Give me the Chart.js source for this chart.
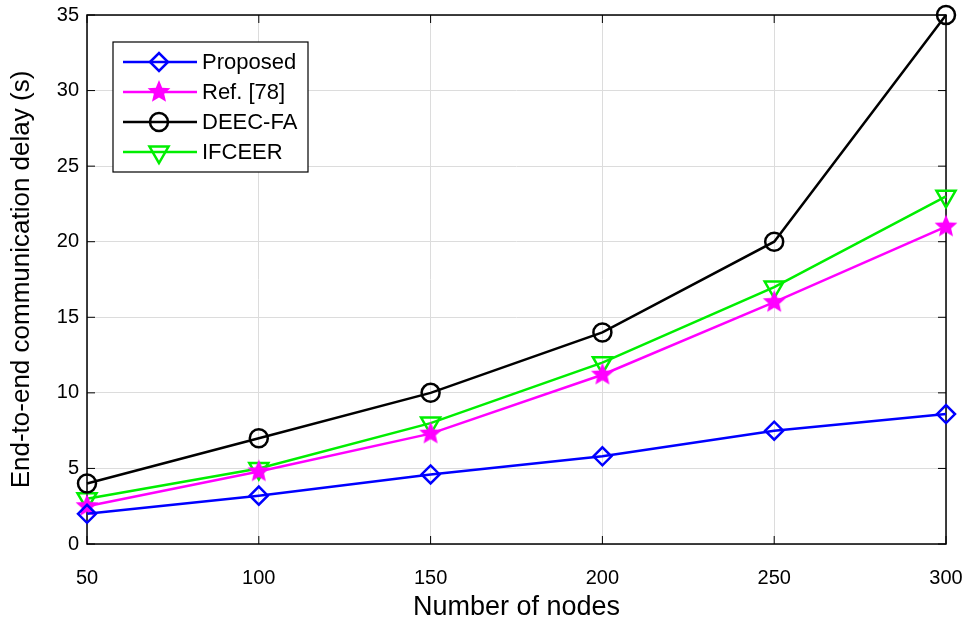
<!DOCTYPE html>
<html lang="en">
<head>
  <meta charset="UTF-8">
  <title>End-to-end delay</title>
  <script src="https://cdn.jsdelivr.net/npm/chart.js"></script>
  <style>
    body { margin: 0; padding: 0; background: #fff; }
    #wrap { width: 974px; height: 625px; }
  </style>
</head>
<body>
  <div id="wrap"><canvas id="delay-chart" width="974" height="625"></canvas></div>
  <script>
    const nodes = [50, 100, 150, 200, 250, 300];
    const proposed = [2.0, 3.2, 4.6, 5.8, 7.5, 8.6];
    const ref78 = [2.5, 4.8, 7.3, 11.2, 16.0, 21.0];
    const deecFa = [4.0, 7.0, 10.0, 14.0, 20.0, 35.0];
    const ifceer = [3.0, 5.0, 8.0, 12.0, 17.0, 23.0];
    const yTicks = [0, 5, 10, 15, 20, 25, 30, 35];
    const xTicks = [50, 100, 150, 200, 250, 300];

    const FONT = "Arial, 'Liberation Sans', sans-serif";

    // filled 5-point star for the Ref. [78] series
    function makeStar(color, r) {
      const c = document.createElement("canvas");
      const s = r * 2 + 4;
      c.width = s; c.height = s;
      const g = c.getContext("2d");
      g.translate(s / 2, s / 2);
      g.beginPath();
      for (let i = 0; i < 10; i++) {
        const rad = i % 2 === 0 ? r : r * 0.45;
        const a = -Math.PI / 2 + i * Math.PI / 5;
        g.lineTo(rad * Math.cos(a), rad * Math.sin(a));
      }
      g.closePath();
      g.fillStyle = color;
      g.fill();
      return c;
    }
    const starImg = makeStar("#ff00ff", 12);

    function series(label, data, color, style, radius, extra) {
      return Object.assign({
        label,
        data: nodes.map((x, i) => ({ x, y: data[i] })),
        borderColor: color,
        backgroundColor: color,
        borderWidth: 2.5,
        pointStyle: style,
        pointRadius: radius,
        pointBorderColor: color,
        pointBackgroundColor: "rgba(0,0,0,0)",
        pointBorderWidth: 2.5,
        tension: 0,
        clip: false
      }, extra || {});
    }

    const datasets = [
      series("Proposed", proposed, "#0000ff", "rectRot", 9),
      series("Ref. [78]", ref78, "#ff00ff", starImg, 12),
      series("DEEC-FA", deecFa, "#000000", "circle", 9),
      series("IFCEER", ifceer, "#00ee00", "triangle", 11, { pointRotation: 180 })
    ];

    // box, inward ticks and legend in the MATLAB manner
    const framePlugin = {
      id: "frame",
      beforeDatasetsDraw(chart) {
        const { ctx, chartArea: a, scales } = chart;
        ctx.save();
        ctx.strokeStyle = "#000";
        ctx.lineWidth = 1.5;
        ctx.strokeRect(a.left, a.top, a.right - a.left, a.bottom - a.top);
        ctx.lineWidth = 1;
        ctx.beginPath();
        yTicks.forEach(v => {
          const y = scales.y.getPixelForValue(v);
          ctx.moveTo(a.left, y); ctx.lineTo(a.left + 8, y);
          ctx.moveTo(a.right, y); ctx.lineTo(a.right - 8, y);
        });
        xTicks.forEach(v => {
          const x = scales.x.getPixelForValue(v);
          ctx.moveTo(x, a.bottom); ctx.lineTo(x, a.bottom - 8);
          ctx.moveTo(x, a.top); ctx.lineTo(x, a.top + 8);
        });
        ctx.stroke();
        ctx.restore();
      },
      afterDraw(chart) {
        const { ctx } = chart;
        ctx.save();
        // legend
        const lx = 113, ly = 42, lw = 195, lh = 130;
        ctx.fillStyle = "#fff";
        ctx.fillRect(lx, ly, lw, lh);
        ctx.strokeStyle = "#000";
        ctx.lineWidth = 1.2;
        ctx.strokeRect(lx, ly, lw, lh);
        ctx.font = "22px " + FONT;
        ctx.textBaseline = "middle";
        chart.data.datasets.forEach((ds, i) => {
          const y = ly + 20 + i * 30;
          ctx.strokeStyle = ds.borderColor;
          ctx.lineWidth = 2.5;
          ctx.beginPath();
          ctx.moveTo(lx + 10, y); ctx.lineTo(lx + 84, y);
          ctx.stroke();
          ctx.fillStyle = "rgba(0,0,0,0)";
          Chart.helpers.drawPoint(ctx, {
            pointStyle: ds.pointStyle,
            rotation: ds.pointRotation || 0,
            borderWidth: 2.5,
            radius: ds.pointRadius
          }, lx + 46, y);
          ctx.fillStyle = "#000";
          ctx.fillText(ds.label, lx + 89, y + 1);
        });
        ctx.restore();
      }
    };

    new Chart(document.getElementById("delay-chart"), {
      type: "line",
      data: { datasets },
      plugins: [framePlugin],
      options: {
        responsive: false,
        animation: false,
        layout: { padding: { left: 0, right: 28, top: 15, bottom: 0 } },
        plugins: { legend: { display: false }, tooltip: { enabled: false } },
        scales: {
          x: {
            type: "linear",
            min: 50, max: 300,
            afterBuildTicks(scale) { scale.ticks = xTicks.map(v => ({ value: v })); },
            afterFit(scale) { scale.height = 81; scale.paddingLeft = 0; scale.paddingRight = 0; },
            grid: { color: "#dcdcdc", lineWidth: 1, drawTicks: false },
            border: { display: false },
            ticks: { color: "#000", font: { size: 20, family: FONT }, padding: 22 },
            title: { display: true, text: "Number of nodes", color: "#000", font: { size: 27, family: FONT }, padding: { top: 0, bottom: 1 } }
          },
          y: {
            min: 0, max: 35,
            afterBuildTicks(scale) { scale.ticks = yTicks.map(v => ({ value: v })); },
            afterFit(scale) { scale.width = 87; scale.paddingTop = 0; scale.paddingBottom = 0; },
            grid: { color: "#dcdcdc", lineWidth: 1, drawTicks: false },
            border: { display: false },
            ticks: { color: "#000", font: { size: 20, family: FONT }, padding: 8 },
            title: { display: true, text: "End-to-end communication delay (s)", color: "#000", font: { size: 26, family: FONT }, padding: { top: 6, bottom: 0 } }
          }
        }
      }
    });
  </script>
</body>
</html>
